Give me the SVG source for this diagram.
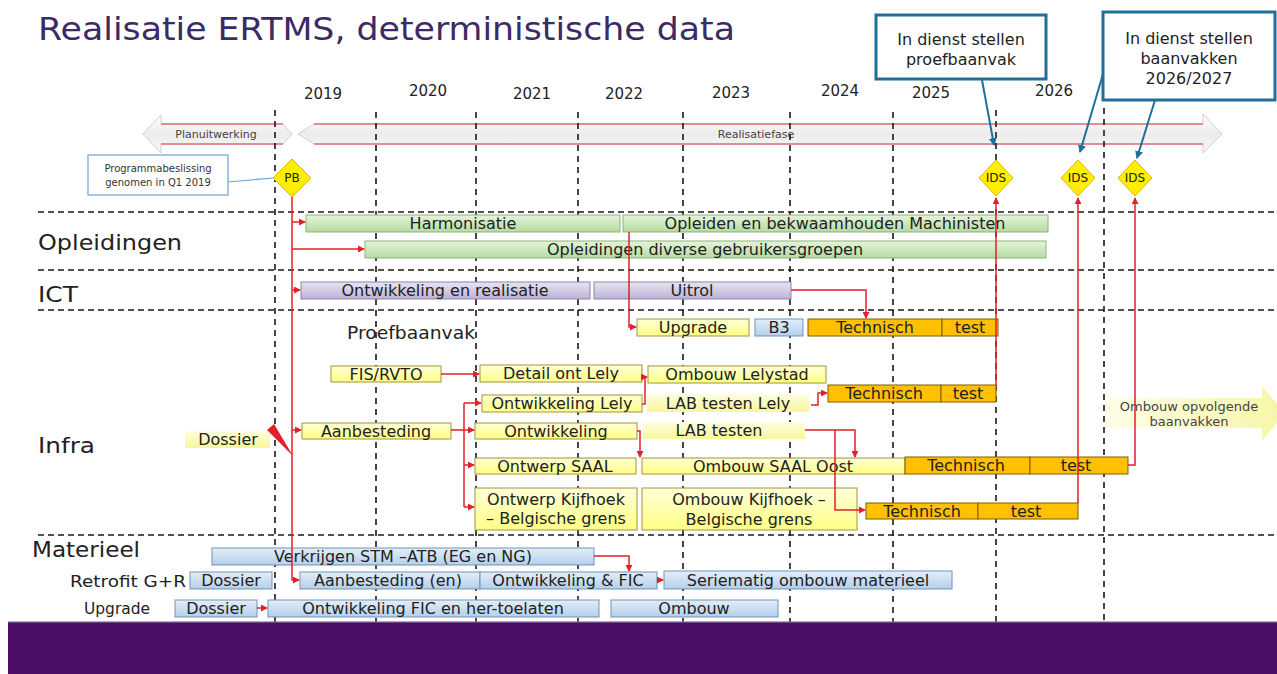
<svg xmlns="http://www.w3.org/2000/svg" width="1277" height="674" viewBox="0 0 1277 674">
  <defs>
    <linearGradient id="gGreen" x1="0" y1="0" x2="0" y2="1">
      <stop offset="0" stop-color="#e6f4dc"/><stop offset="1" stop-color="#b5dba0"/>
    </linearGradient>
    <linearGradient id="gPurple" x1="0" y1="0" x2="0" y2="1">
      <stop offset="0" stop-color="#e8e4f2"/><stop offset="1" stop-color="#bcb3d6"/>
    </linearGradient>
    <linearGradient id="gYellow" x1="0" y1="0" x2="0" y2="1">
      <stop offset="0" stop-color="#ffffd8"/><stop offset="1" stop-color="#ffff84"/>
    </linearGradient>
    <linearGradient id="gSoft" x1="0" y1="0" x2="0" y2="1">
      <stop offset="0" stop-color="#fdfde0"/><stop offset="1" stop-color="#f7f79a"/>
    </linearGradient>
    <linearGradient id="gBlue" x1="0" y1="0" x2="0" y2="1">
      <stop offset="0" stop-color="#e4eef9"/><stop offset="1" stop-color="#b5cfea"/>
    </linearGradient>
    <linearGradient id="gPhase" x1="0" y1="0" x2="0" y2="1">
      <stop offset="0" stop-color="#ffffff"/><stop offset="0.5" stop-color="#ececec"/><stop offset="1" stop-color="#f8f8f8"/>
    </linearGradient>
    <linearGradient id="gNext" x1="0" y1="0" x2="1" y2="0">
      <stop offset="0" stop-color="#fefee8"/><stop offset="1" stop-color="#f6f6a8"/>
    </linearGradient>
    <marker id="aRed" viewBox="0 0 8 8" refX="7" refY="4" markerWidth="7" markerHeight="7" markerUnits="userSpaceOnUse" orient="auto">
      <path d="M0,0 L8,4 L0,8 z" fill="#e0202a"/>
    </marker>
    <marker id="aBlue" viewBox="0 0 8 8" refX="7" refY="4" markerWidth="8" markerHeight="8" markerUnits="userSpaceOnUse" orient="auto">
      <path d="M0,0 L8,4 L0,8 z" fill="#1f6f99"/>
    </marker>
  </defs>
  <style>
    text { font-family: "DejaVu Sans", Verdana, sans-serif; fill: #222; }
    .bar text, text.c { text-anchor: middle; }
    .t { font-size: 16px; }
    .k { font-size: 16px; }
    .green { fill: url(#gGreen); stroke: #8fb37c; stroke-width: 1; }
    .purple { fill: url(#gPurple); stroke: #8d84ab; stroke-width: 1; }
    .yellow { fill: url(#gYellow); stroke: #a8903a; stroke-width: 1; }
    .soft { fill: url(#gSoft); stroke: none; }
    .blue { fill: url(#gBlue); stroke: #6e93bb; stroke-width: 1; }
    .orange { fill: #ffc000; stroke: #7f5f00; stroke-width: 1; }
    .grid { stroke: #1a1a1a; stroke-width: 1.6; stroke-dasharray: 6 4; fill: none; }
    .vgrid { stroke: #1a1a1a; stroke-width: 1.6; stroke-dasharray: 6 5; fill: none; }
    .link { stroke: #e0202a; stroke-width: 1.5; fill: none; }
    .callout { fill: #ffffff; stroke: #1f6f99; stroke-width: 3; }
    .ptr { stroke: #1f6f99; stroke-width: 2; fill: none; }
    .dia { fill: #ffee00; stroke: #e0b800; stroke-width: 1; }
    .year { font-size: 15px; text-anchor: middle; }
    .lane { font-size: 22px; }
  </style>

  <rect width="1277" height="674" fill="#ffffff"/>

  <!-- title -->
  <text x="38" y="40" font-size="32" textLength="697" lengthAdjust="spacingAndGlyphs" style="fill:#3b2a64">Realisatie ERTMS, deterministische data</text>

  <!-- year labels -->
  <g id="years">
    <text class="year" x="323" y="99">2019</text>
    <text class="year" x="428" y="96">2020</text>
    <text class="year" x="532" y="99">2021</text>
    <text class="year" x="624" y="99">2022</text>
    <text class="year" x="731" y="98">2023</text>
    <text class="year" x="840" y="96">2024</text>
    <text class="year" x="931" y="98">2025</text>
    <text class="year" x="1054" y="96">2026</text>
  </g>

  <!-- phase arrows -->
  <g id="phase-planuitwerking">
    <polygon points="143,134 161,115 161,124 283,124 292,134 283,144 161,144 161,153" fill="url(#gPhase)" stroke="#cfcfcf" stroke-width="1"/>
    <path d="M161,124 H283 M161,144 H283" stroke="#e4707e" stroke-width="1.5"/>
    <text class="c" x="216" y="138" font-size="11" style="fill:#444">Planuitwerking</text>
  </g>
  <g id="phase-realisatie">
    <polygon points="298,134 314,124 1203,124 1203,114 1222,134 1203,153 1203,144 314,144" fill="url(#gPhase)" stroke="#cfcfcf" stroke-width="1"/>
    <path d="M314,124 H1203 M314,144 H1203" stroke="#e4707e" stroke-width="1.5"/>
    <text class="c" x="756" y="138" font-size="11" style="fill:#444">Realisatiefase</text>
  </g>

  <!-- grid lines -->
  <g id="grid">
    <path class="grid" d="M38,212 H1277 M38,270 H1277 M38,310 H1277 M38,535 H1277"/>
    <path class="vgrid" d="M275,110 V622 M376,112 V622 M476,112 V622 M578,112 V622 M683,112 V622 M790,112 V622 M893,112 V622 M996,110 V622 M1104,108 V622"/>
  </g>

  <!-- lane labels -->
  <g id="lanes">
    <text class="lane" x="38" y="250" textLength="144" lengthAdjust="spacingAndGlyphs">Opleidingen</text>
    <text class="lane" x="38" y="302" textLength="40" lengthAdjust="spacingAndGlyphs">ICT</text>
    <text x="347" y="339" font-size="18" textLength="128" lengthAdjust="spacingAndGlyphs">Proefbaanvak</text>
    <text class="lane" x="38" y="453" textLength="57" lengthAdjust="spacingAndGlyphs">Infra</text>
    <text x="32" y="557" font-size="21" textLength="108" lengthAdjust="spacingAndGlyphs">Materieel</text>
    <text x="70" y="587" font-size="16" textLength="116" lengthAdjust="spacingAndGlyphs">Retrofit G+R</text>
    <text x="84" y="614" font-size="16" textLength="66" lengthAdjust="spacingAndGlyphs">Upgrade</text>
  </g>

  <!-- decision note -->
  <g id="note-pb">
    <rect x="88" y="155" width="140" height="40" fill="#ffffff" stroke="#6fa0cf" stroke-width="1.2"/>
    <text class="c" x="158" y="172" font-size="10" style="fill:#333">Programmabeslissing</text>
    <text class="c" x="158" y="186" font-size="10" style="fill:#333">genomen in Q1 2019</text>
    <path d="M228,182 L273,178" stroke="#6fa0cf" stroke-width="1.2"/>
  </g>

  <!-- callouts -->
  <g id="callout-proef">
    <rect class="callout" x="876" y="15" width="170" height="64"/>
    <text class="c k" x="961" y="45">In dienst stellen</text>
    <text class="c k" x="961" y="65">proefbaanvak</text>
  </g>
  <g id="callout-baanvakken">
    <rect class="callout" x="1103" y="12" width="172" height="88"/>
    <text class="c k" x="1189" y="44">In dienst stellen</text>
    <text class="c k" x="1189" y="64">baanvakken</text>
    <text class="c k" x="1189" y="84">2026/2027</text>
  </g>

  <!-- milestones -->
  <g id="ms-pb">
    <polygon class="dia" points="292,159 311,178 292,197 273,178"/>
    <text class="c" x="292" y="182" font-size="12">PB</text>
  </g>
  <g id="ms-ids1">
    <polygon class="dia" points="996,160 1013,178 996,196 979,178"/>
    <text class="c" x="996" y="182" font-size="12">IDS</text>
  </g>
  <g id="ms-ids2">
    <polygon class="dia" points="1078,160 1095,178 1078,196 1061,178"/>
    <text class="c" x="1078" y="182" font-size="12">IDS</text>
  </g>
  <g id="ms-ids3">
    <polygon class="dia" points="1135,160 1152,178 1135,196 1118,178"/>
    <text class="c" x="1135" y="182" font-size="12">IDS</text>
  </g>

  <!-- Opleidingen -->
  <g id="harmonisatie" class="bar"><rect class="green" x="306" y="215" width="314" height="17"/><text class="t" x="463" y="229">Harmonisatie</text></g>
  <g id="opleiden-machinisten" class="bar"><rect class="green" x="623" y="215" width="425" height="17"/><text class="t" x="835" y="229">Opleiden en bekwaamhouden Machinisten</text></g>
  <g id="opleidingen-diverse" class="bar"><rect class="green" x="365" y="241" width="681" height="17"/><text class="t" x="705" y="255">Opleidingen diverse gebruikersgroepen</text></g>

  <!-- ICT -->
  <g id="ict-ontwikkeling" class="bar"><rect class="purple" x="301" y="282" width="289" height="17"/><text class="t" x="445" y="296">Ontwikkeling en realisatie</text></g>
  <g id="ict-uitrol" class="bar"><rect class="purple" x="594" y="282" width="197" height="17"/><text class="t" x="692" y="296">Uitrol</text></g>

  <!-- Proefbaanvak -->
  <g id="pb-upgrade" class="bar"><rect class="yellow" x="637" y="319" width="112" height="17"/><text class="t" x="693" y="333">Upgrade</text></g>
  <g id="pb-b3" class="bar"><rect class="blue" x="755" y="319" width="48" height="17"/><text class="t" x="779" y="333">B3</text></g>
  <g id="pb-technisch" class="bar"><rect class="orange" x="808" y="319" width="134" height="17"/><text class="t" x="875" y="333">Technisch</text></g>
  <g id="pb-test" class="bar"><rect class="orange" x="942" y="319" width="56" height="17"/><text class="t" x="970" y="333">test</text></g>

  <!-- Infra -->
  <g id="fis-rvto" class="bar"><rect class="yellow" x="331" y="366" width="110" height="16"/><text class="t" x="386" y="380">FIS/RVTO</text></g>
  <g id="detail-lely" class="bar"><rect class="yellow" x="480" y="365" width="162" height="17"/><text class="t" x="561" y="379">Detail ont Lely</text></g>
  <g id="ombouw-lelystad" class="bar"><rect class="yellow" x="648" y="366" width="178" height="17"/><text class="t" x="737" y="380">Ombouw Lelystad</text></g>
  <g id="ontw-lely" class="bar"><rect class="yellow" x="482" y="395" width="160" height="17"/><text class="t" x="562" y="409">Ontwikkeling Lely</text></g>
  <g id="lab-lely" class="bar"><rect class="soft" x="647" y="394" width="162" height="18"/><text class="t" x="728" y="409">LAB testen Lely</text></g>
  <g id="lely-technisch" class="bar"><rect class="orange" x="828" y="385" width="113" height="17"/><text class="t" x="884" y="399">Technisch</text></g>
  <g id="lely-test" class="bar"><rect class="orange" x="941" y="385" width="55" height="17"/><text class="t" x="968" y="399">test</text></g>

  <g id="infra-dossier" class="bar"><rect class="soft" x="185" y="431" width="85" height="17"/><text class="t" x="228" y="445">Dossier</text></g>
  <g id="aanbesteding" class="bar"><rect class="yellow" x="302" y="423" width="149" height="16"/><text class="t" x="376" y="437">Aanbesteding</text></g>
  <g id="ontwikkeling" class="bar"><rect class="yellow" x="475" y="423" width="162" height="16"/><text class="t" x="556" y="437">Ontwikkeling</text></g>
  <g id="lab-testen" class="bar"><rect class="soft" x="643" y="422" width="162" height="17"/><text class="t" x="719" y="436">LAB testen</text></g>

  <g id="ontwerp-saal" class="bar"><rect class="yellow" x="475" y="458" width="161" height="16"/><text class="t" x="555" y="472">Ontwerp SAAL</text></g>
  <g id="ombouw-saal" class="bar"><rect class="yellow" x="642" y="458" width="263" height="16"/><text class="t" x="773" y="472">Ombouw SAAL Oost</text></g>
  <g id="saal-technisch" class="bar"><rect class="orange" x="905" y="457" width="125" height="17"/><text class="t" x="966" y="471">Technisch</text></g>
  <g id="saal-test" class="bar"><rect class="orange" x="1030" y="457" width="98" height="17"/><text class="t" x="1076" y="471">test</text></g>

  <g id="ontwerp-kijfhoek" class="bar"><rect class="yellow" x="475" y="488" width="162" height="42"/><text class="t" x="556" y="505">Ontwerp Kijfhoek</text><text class="t" x="556" y="524">– Belgische grens</text></g>
  <g id="ombouw-kijfhoek" class="bar"><rect class="yellow" x="642" y="488" width="215" height="42"/><text class="t" x="749" y="505">Ombouw Kijfhoek –</text><text class="t" x="749" y="525">Belgische grens</text></g>
  <g id="kijfhoek-technisch" class="bar"><rect class="orange" x="866" y="503" width="112" height="16"/><text class="t" x="922" y="517">Technisch</text></g>
  <g id="kijfhoek-test" class="bar"><rect class="orange" x="978" y="503" width="100" height="16"/><text class="t" x="1026" y="517">test</text></g>

  <g id="ombouw-opvolgend">
    <polygon points="1105,398 1262,398 1262,386 1285,413 1262,441 1262,428 1105,428" fill="url(#gNext)"/>
    <text class="c" x="1189" y="411" font-size="13" style="fill:#444">Ombouw opvolgende</text>
    <text class="c" x="1189" y="426" font-size="13" style="fill:#444">baanvakken</text>
  </g>

  <!-- Materieel -->
  <g id="verkrijgen-stm" class="bar"><rect class="blue" x="212" y="548" width="382" height="17"/><text class="t" x="403" y="562">Verkrijgen STM –ATB (EG en NG)</text></g>
  <g id="retrofit-dossier" class="bar"><rect class="blue" x="190" y="572" width="82" height="17"/><text class="t" x="231" y="586">Dossier</text></g>
  <g id="retrofit-aanbesteding" class="bar"><rect class="blue" x="300" y="572" width="180" height="17"/><text class="t" x="388" y="586">Aanbesteding (en)</text></g>
  <g id="retrofit-ontwikkeling" class="bar"><rect class="blue" x="480" y="572" width="177" height="17"/><text class="t" x="568" y="586">Ontwikkeling &amp; FIC</text></g>
  <g id="retrofit-seriematig" class="bar"><rect class="blue" x="664" y="571" width="288" height="18"/><text class="t" x="808" y="586">Seriematig ombouw materieel</text></g>
  <g id="upgrade-dossier" class="bar"><rect class="blue" x="175" y="600" width="82" height="17"/><text class="t" x="216" y="614">Dossier</text></g>
  <g id="upgrade-ontwikkeling" class="bar"><rect class="blue" x="268" y="600" width="331" height="17"/><text class="t" x="433" y="614">Ontwikkeling FIC en her-toelaten</text></g>
  <g id="upgrade-ombouw" class="bar"><rect class="blue" x="611" y="600" width="167" height="17"/><text class="t" x="694" y="614">Ombouw</text></g>

  <!-- connectors -->
  <g id="connectors">
    <path class="link" d="M292,197 V580 H299" marker-end="url(#aRed)"/>
    <path class="link" d="M292,222 H305" marker-end="url(#aRed)"/>
    <path class="link" d="M292,249 H364" marker-end="url(#aRed)"/>
    <path class="link" d="M292,290 H300" marker-end="url(#aRed)"/>
    <path class="link" d="M292,430 H301" marker-end="url(#aRed)"/>
    <polygon points="267,430 274,424 293,456" fill="#e0202a"/>
    <path class="link" d="M629,232 V327 H636" marker-end="url(#aRed)"/>
    <path class="link" d="M791,290 H866 V318" marker-end="url(#aRed)"/>
    <path class="link" d="M441,374 H479" marker-end="url(#aRed)"/>
    <path class="link" d="M642,404 H645 V377 H647" marker-end="url(#aRed)"/>
    <path class="link" d="M811,405 H818 V393 H827" marker-end="url(#aRed)"/>
    <path class="link" d="M451,430 H464 M464,403 V507"/>
    <path class="link" d="M464,403 H481" marker-end="url(#aRed)"/>
    <path class="link" d="M464,430 H474" marker-end="url(#aRed)"/>
    <path class="link" d="M464,465 H474" marker-end="url(#aRed)"/>
    <path class="link" d="M464,507 H474" marker-end="url(#aRed)"/>
    <path class="link" d="M637,431 H640 V457" marker-end="url(#aRed)"/>
    <path class="link" d="M805,430 H855 V457" marker-end="url(#aRed)"/>
    <path class="link" d="M835,430 V510 H865" marker-end="url(#aRed)"/>
    <path class="link" d="M996,385 V198" marker-end="url(#aRed)"/>
    <path class="link" d="M1078,503 V198" marker-end="url(#aRed)"/>
    <path class="link" d="M1128,465 H1135 V198" marker-end="url(#aRed)"/>
    <path class="link" d="M594,556 H629 V571" marker-end="url(#aRed)"/>
    <path class="link" d="M657,580 H663" marker-end="url(#aRed)"/>
    <path class="link" d="M257,608 H267" marker-end="url(#aRed)"/>
    <path class="ptr" d="M982,80 L994,145" marker-end="url(#aBlue)"/>
    <path class="ptr" d="M1103,74 L1080,152" marker-end="url(#aBlue)"/>
    <path class="ptr" d="M1155,100 L1137,158" marker-end="url(#aBlue)"/>
  </g>

  <!-- footer band -->
  <rect x="8" y="622" width="1269" height="52" fill="#4c0e64"/>
  <rect x="8" y="621" width="1269" height="2" fill="#8a6a9a" opacity="0.6"/>
</svg>
